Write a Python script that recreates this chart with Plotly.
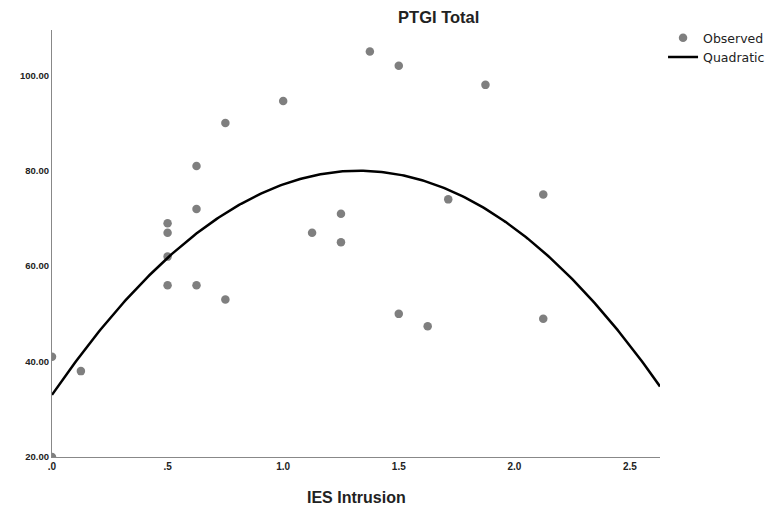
import numpy as np
import plotly.graph_objects as go

# Observed data (IES Intrusion vs PTGI Total)
ies_intrusion = [0.0, 0.0, 0.125, 0.5, 0.5, 0.5, 0.5, 0.625, 0.625, 0.625,
                 0.75, 0.75, 1.0, 1.125, 1.25, 1.25, 1.375, 1.5, 1.5, 1.625,
                 1.714, 1.875, 2.125, 2.125]
ptgi_total = [41, 20, 38, 69, 67, 62, 56, 81, 72, 56,
              90, 53, 94.6, 67, 71, 65, 105, 102, 50, 47.4,
              74, 98, 75, 49]

x_tickvals = [0, 0.5, 1.0, 1.5, 2.0, 2.5]
x_ticktext = [".0", ".5", "1.0", "1.5", "2.0", "2.5"]
y_tickvals = [20, 40, 60, 80, 100]

x_range = [0, 2.63]
y_range = [20, 109.5]

# Quadratic fit of the observed data
coef = np.polyfit(ies_intrusion, ptgi_total, 2)
xs = np.linspace(x_range[0], x_range[1], 300)
ys = np.polyval(coef, xs)

fig = go.Figure()
fig.add_trace(go.Scatter(
    x=ies_intrusion, y=ptgi_total, mode="markers", name="Observed",
    marker=dict(color="#7f7f7f", size=8.5),
))
fig.add_trace(go.Scatter(
    x=xs, y=ys, mode="lines", name="Quadratic",
    line=dict(color="black", width=2.5),
))

fig.update_layout(
    width=767, height=514,
    margin=dict(l=52, r=107, t=30, b=57, autoexpand=False),
    paper_bgcolor="white", plot_bgcolor="white",
    font=dict(family="Liberation Sans", color="#222222"),
    title=dict(text="PTGI Total", x=0.636, xref="paper", xanchor="center",
               y=1 - 17 / 514, yref="container", yanchor="middle",
               font=dict(size=16.5, weight="bold", color="#222222")),
    showlegend=True,
    legend=dict(x=1.005, y=1.016, xanchor="left", yanchor="top",
                font=dict(family="DejaVu Sans", size=12.5, color="#222222"),
                tracegroupgap=0, bgcolor="rgba(0,0,0,0)"),
    xaxis=dict(range=x_range, tickvals=x_tickvals, ticktext=x_ticktext,
               showgrid=False, zeroline=False, showline=True,
               linecolor="#888888", linewidth=1.2, ticks="",
               tickfont=dict(size=10, weight="bold", color="#222222")),
    yaxis=dict(range=y_range, tickvals=y_tickvals, tickformat=".2f",
               showgrid=False, zeroline=False, showline=True,
               linecolor="#888888", linewidth=1.2, ticks="",
               tickfont=dict(size=9.5, weight="bold", color="#222222")),
    annotations=[dict(text="IES Intrusion", x=0.5, xref="paper",
                      y=-(497 - 457) / 427, yref="paper", yanchor="middle",
                      showarrow=False,
                      font=dict(size=16, weight="bold", color="#222222"))],
)

fig.write_html(
    "out.html",
    config={"displayModeBar": False},
    post_script="document.body.style.margin='0px';"
                "document.documentElement.style.overflow='hidden';",
)
